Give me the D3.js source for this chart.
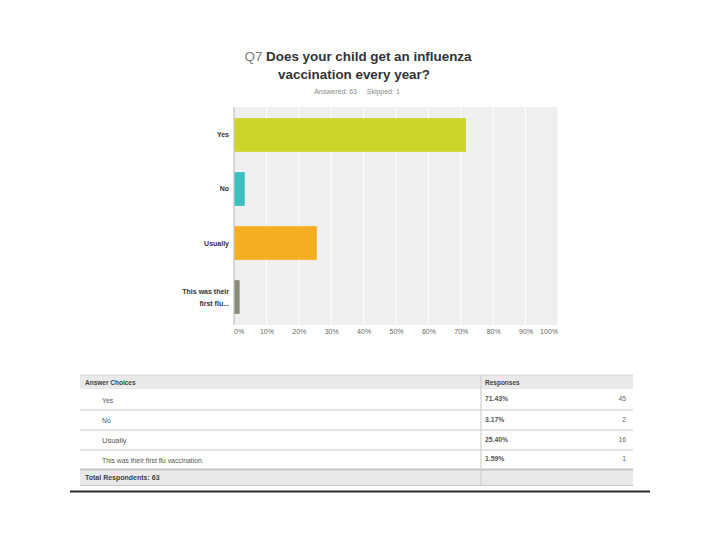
<!DOCTYPE html>
<html><head><meta charset="utf-8">
<script src="https://cdn.jsdelivr.net/npm/d3@7"></script>
<style>
html,body{margin:0;padding:0;background:#fff;}
svg{display:block;font-family:"Liberation Sans",Arial,sans-serif;}
</style></head>
<body>
<svg id="c" width="720" height="540"></svg>
<script>
const categories = ["Yes", "No", "Usually", "This was their first flu..."];
const tableChoices = ["Yes", "No", "Usually", "This was their first flu vaccination."];
const percents = [71.43, 3.17, 25.40, 1.59];
const counts = [45, 2, 16, 1];
const barColors = ["#cdd42a", "#3bbfc0", "#f5ae22", "#8b8b7b"];
const tickValues = [0,10,20,30,40,50,60,70,80,90,100];
const answered = 63, skipped = 1;

const svg = d3.select("#c");

// Title
const t = svg.append("text").attr("x", 358).attr("y", 60.5).attr("text-anchor","middle")
  .attr("font-size", 13.4).attr("font-weight","bold").attr("fill","#333");
t.append("tspan").attr("fill","#7a7a7a").attr("font-weight","normal").text("Q7 ");
t.append("tspan").text("Does your child get an influenza");
svg.append("text").attr("x", 354).attr("y", 78.5).attr("text-anchor","middle")
  .attr("font-size", 13.4).attr("font-weight","bold").attr("fill","#333")
  .text("vaccination every year?");
svg.append("text").attr("x", 357).attr("y", 93.5).attr("text-anchor","middle")
  .attr("font-size", 7).attr("fill","#888").attr("xml:space","preserve")
  .text("Answered: " + answered + "     Skipped: " + skipped);

// Chart
const x = d3.scaleLinear().domain([0,100]).range([234, 558]);
const y = d3.scaleBand().domain(categories).range([107, 325]).paddingInner(0.376).paddingOuter(0.206);

svg.append("rect").attr("x", x(0)).attr("y", 107).attr("width", x(100)-x(0)).attr("height", 218).attr("fill","#efefef");
svg.append("g").selectAll("line").data(tickValues.slice(1)).join("line")
  .attr("x1", d=>x(d)).attr("x2", d=>x(d)).attr("y1",107).attr("y2",325)
  .attr("stroke","#fff").attr("stroke-width",1);
svg.append("line").attr("x1",x(0)).attr("x2",x(0)).attr("y1",107).attr("y2",325)
  .attr("stroke","#b5b5b5").attr("stroke-width",1);

svg.append("g").selectAll("rect").data(categories).join("rect")
  .attr("x", x(0)+0.5).attr("y", d=>y(d)).attr("height", y.bandwidth())
  .attr("width", (d,i)=>x(percents[i])-x(0)).attr("fill",(d,i)=>barColors[i]);

// y labels
const yl = svg.append("g").selectAll("text").data(categories).join("text")
  .attr("x", 229).attr("text-anchor","end").attr("font-size",7).attr("font-weight","bold").attr("fill","#333");
yl.each(function(d){
  const el = d3.select(this);
  const cy = y(d) + y.bandwidth()/2;
  if (d.length > 12) {
    const words = d.split(" ");
    const l1 = words.slice(0,3).join(" "), l2 = words.slice(3).join(" ");
    el.append("tspan").attr("x",229).attr("y", cy-3).text(l1);
    el.append("tspan").attr("x",229).attr("y", cy+8.5).text(l2);
  } else {
    el.attr("y", cy+2.5).text(d);
  }
});

// x tick labels
const xa = d3.axisBottom(x).tickValues(tickValues).tickFormat(d=>d+"%").tickSize(0).tickPadding(0);
const gx = svg.append("g").attr("transform","translate(0,332)").call(xa);
gx.select(".domain").remove();
gx.selectAll("text").attr("font-size",7).attr("fill","#666").attr("font-family","Liberation Sans, Arial, sans-serif")
  .attr("dy","0.3em");
gx.selectAll(".tick").filter(d=>d===0).select("text").attr("text-anchor","start").attr("dx",-0.5);
gx.selectAll(".tick").filter(d=>d===100).select("text").attr("text-anchor","end").attr("dx",-0.5);

// Table
const L = 80, M = 481, R = 633;
const rowTops = [389, 410, 430, 450];
const rowH = [21, 20, 20, 19.5];
svg.append("rect").attr("x",L).attr("y",375).attr("width",R-L).attr("height",14).attr("fill","#e9e9e9");
svg.append("line").attr("x1",L).attr("x2",R).attr("y1",375).attr("y2",375).attr("stroke","#d6d6d6");
svg.append("rect").attr("x",L).attr("y",470).attr("width",R-L).attr("height",15).attr("fill","#e9e9e9");
svg.append("g").selectAll("line").data(rowTops.slice(1)).join("line")
  .attr("x1",L).attr("x2",R).attr("y1",d=>d).attr("y2",d=>d).attr("stroke","#c8c8c8").attr("stroke-width",1.2);
svg.append("line").attr("x1",L).attr("x2",R).attr("y1",469.5).attr("y2",469.5).attr("stroke","#c4c4c4").attr("stroke-width",1.8);
svg.append("line").attr("x1",L).attr("x2",R).attr("y1",485.5).attr("y2",485.5).attr("stroke","#c8c8c8").attr("stroke-width",1.2);
svg.append("line").attr("x1",M).attr("x2",M).attr("y1",375).attr("y2",485).attr("stroke","#cfcfcf").attr("stroke-width",1.2);

svg.append("text").attr("x",85).attr("y",384.5).attr("font-size",6.5).attr("font-weight","bold").attr("fill","#444").text("Answer Choices");
svg.append("text").attr("x",485).attr("y",384.5).attr("font-size",6.5).attr("font-weight","bold").attr("fill","#444").text("Responses");
svg.append("text").attr("x",85).attr("y",480).attr("font-size",7).attr("font-weight","bold").attr("fill","#444").text("Total Respondents: " + answered);

const rows = svg.append("g").selectAll("g").data(tableChoices).join("g");
rows.append("text").attr("x",102).attr("y",(d,i)=>rowTops[i]+rowH[i]/2+3.2)
  .attr("font-size",(d,i)=>i===2?7.5:6.8).attr("fill","#555").text(d=>d);
rows.append("text").attr("x",485).attr("y",(d,i)=>rowTops[i]+rowH[i]/2+1.5)
  .attr("font-size",6.8).attr("font-weight","bold").attr("fill","#555").text((d,i)=>percents[i].toFixed(2)+"%");
rows.append("text").attr("x",626).attr("y",(d,i)=>rowTops[i]+rowH[i]/2+1.5).attr("text-anchor","end")
  .attr("font-size",6.8).attr("fill","#666").text((d,i)=>counts[i]);

// bottom rule
svg.append("line").attr("x1",70).attr("x2",650).attr("y1",491.5).attr("y2",491.5).attr("stroke","#2a2a2a").attr("stroke-width",2);
</script>
</body></html>
